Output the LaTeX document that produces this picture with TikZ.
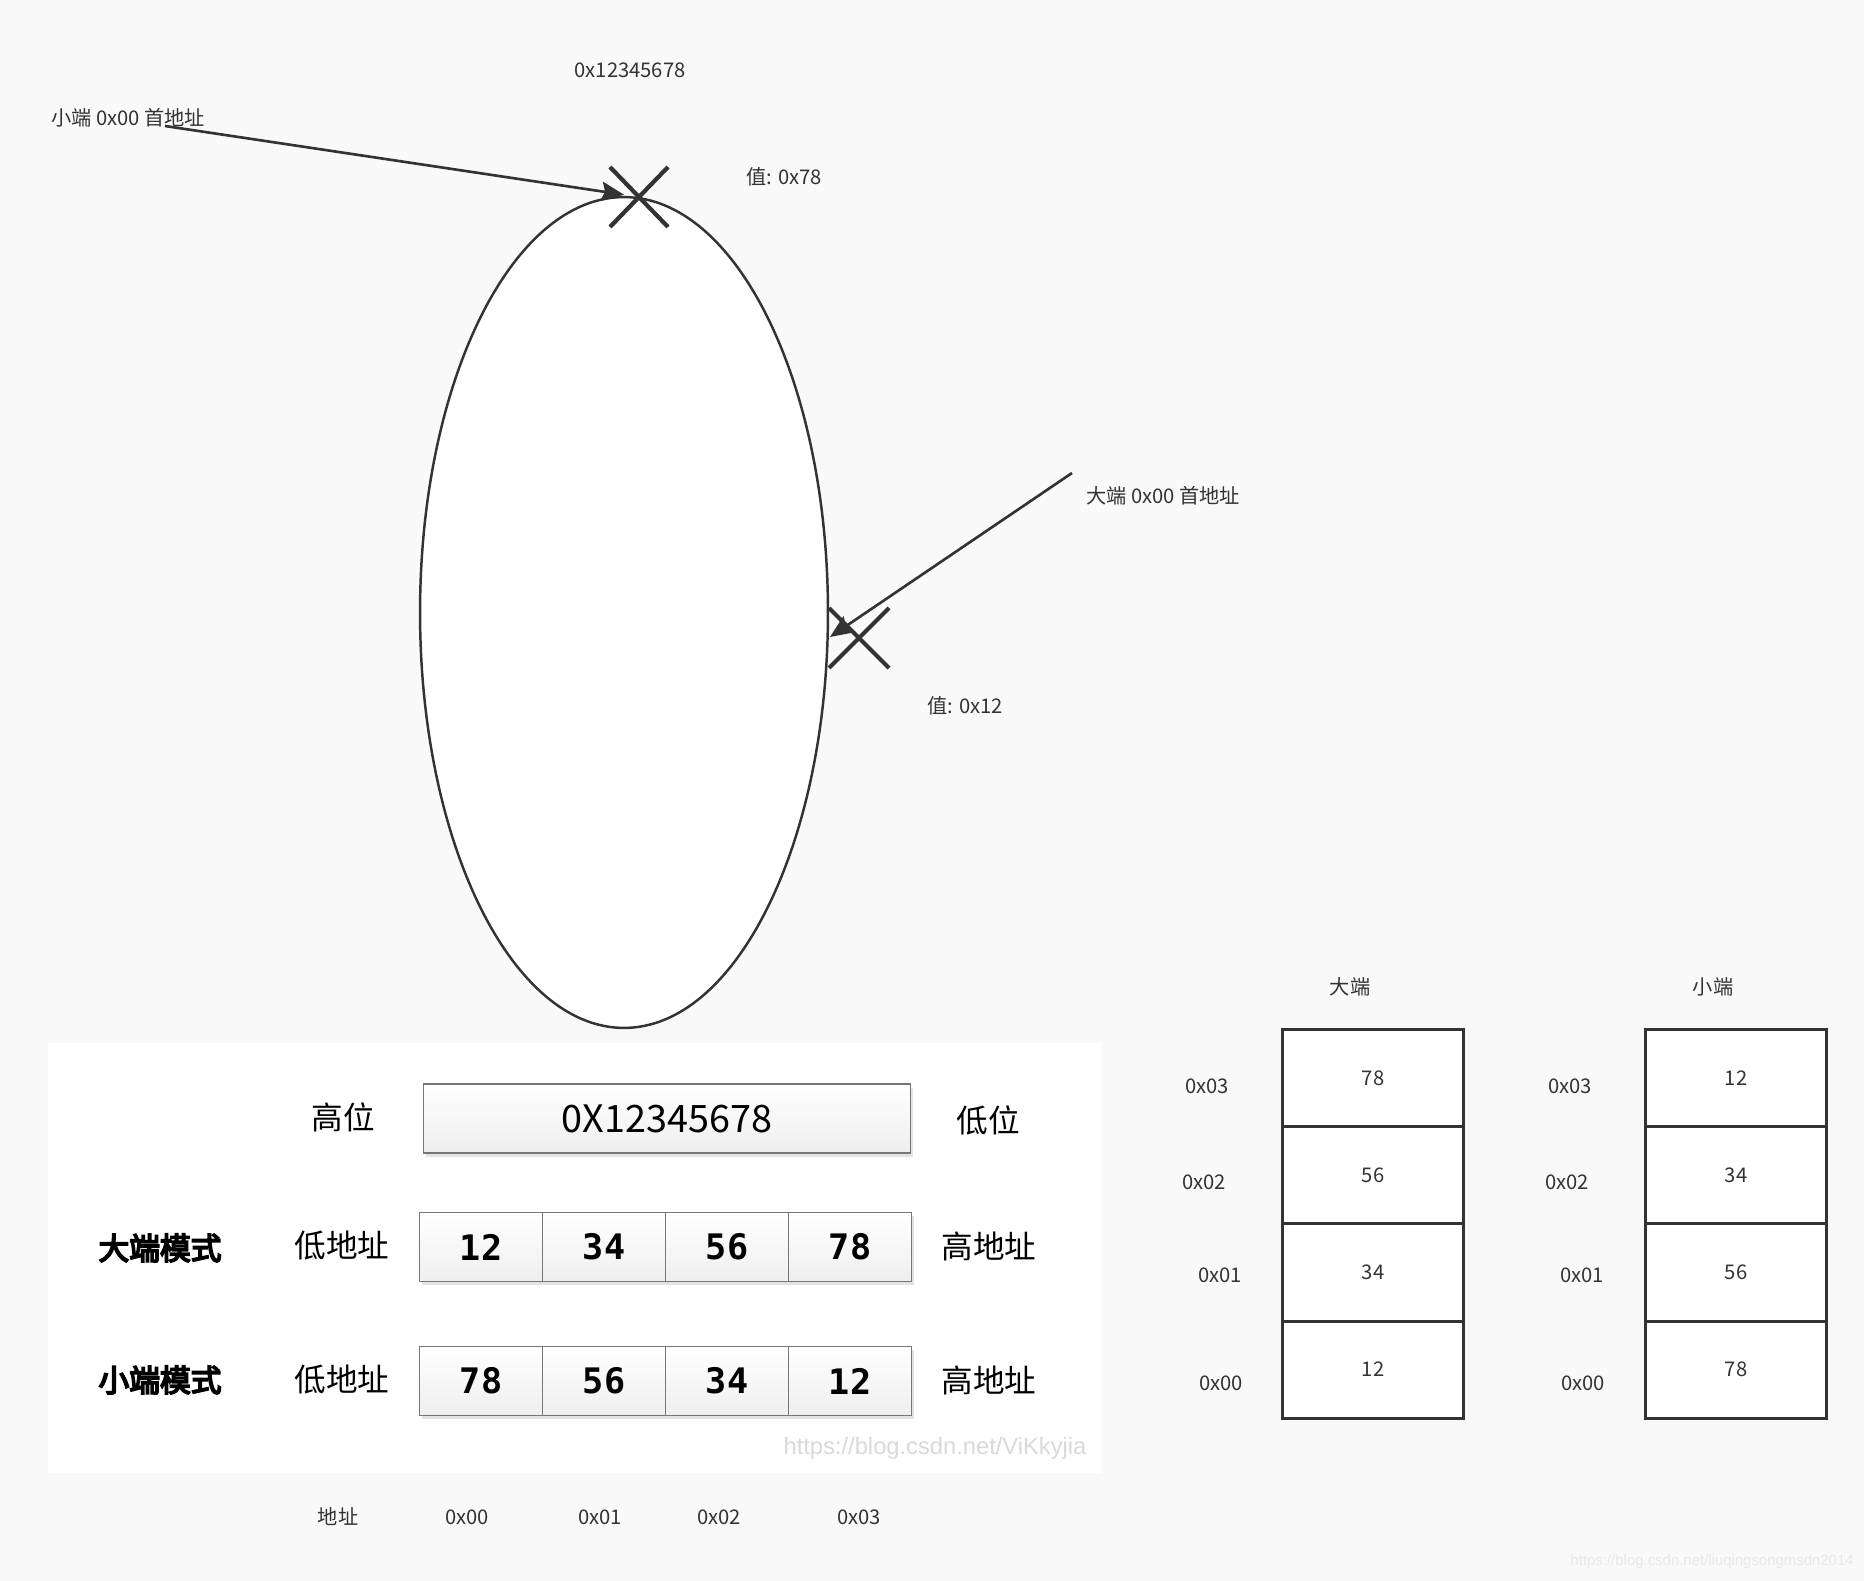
\documentclass[tikz,border=0pt]{standalone}
\usepackage{fontspec}
\usetikzlibrary{arrows.meta, shapes.geometric, shadows, calc}
\newfontfamily\cjk{Noto Sans CJK SC}
\newfontfamily\cjkbold[FakeBold=5.5]{Noto Sans CJK SC}
\newfontfamily\bytefont{DejaVu Sans Mono}
\newfontfamily\wmfont{Liberation Sans}
\definecolor{bg}{HTML}{F9F9F9}
\definecolor{ink}{HTML}{333333}
\definecolor{boxline}{HTML}{767676}

\begin{document}
\begin{tikzpicture}[x=0.02cm, y=-0.02cm, >={Stealth[length=13pt, width=11pt, inset=2pt]},
    lbl/.style={font=\cjk\fontsize{11.5}{13}\selectfont, text=ink, inner sep=0pt},
    biglbl/.style={font=\cjk\fontsize{18}{21}\selectfont, text=black, inner sep=0pt},
    modelbl/.style={font=\cjkbold\fontsize{17.5}{20}\selectfont, text=black, inner sep=0pt},
    bytebox/.style={draw=boxline, line width=0.9pt, top color=white, bottom color=gray!13,
        drop shadow={shadow xshift=1.5pt, shadow yshift=-2pt, fill=gray!22, opacity=1},
        minimum width=2.46cm, minimum height=1.38cm, inner sep=0pt,
        font=\bytefont\bfseries\fontsize{20}{22}\selectfont},
    memcell/.style={draw=ink, line width=1.7pt, fill=white, minimum width=3.62cm,
        minimum height=1.944cm, inner sep=0pt, font=\cjk\fontsize{11.5}{13}\selectfont, text=ink},
    cross/.style={draw=ink, line width=2.4pt},
    wm/.style={font=\wmfont\fontsize{13.5}{15}\selectfont, text=gray!30, inner sep=0pt}]

    % Canvas and white panel
    \fill[bg] (0,0) rectangle (1864,1581);
    \fill[white] (48,1043) rectangle (1101,1473);

    % Memory ellipse
    \node[ellipse, draw=ink, line width=1.4pt, fill=white, minimum width=8.16cm,
        minimum height=16.62cm, inner sep=0pt] (mem) at (624,612.5) {};
    \coordinate (xtop) at (639,197);
    \coordinate (xright) at (859,638);
    \coordinate (btip) at (830,637);
    \coordinate (ltail) at (165,126);
    \coordinate (btail) at (1072,473);

    % Cross marks
    \draw[cross] ($(xtop)+(-29,-30)$) -- ($(xtop)+(29,30)$);
    \draw[cross] ($(xtop)+(29,-30)$) -- ($(xtop)+(-29,30)$);
    \draw[cross] ($(xright)+(-30,-30)$) -- ($(xright)+(30,30)$);
    \draw[cross] ($(xright)+(30,-30)$) -- ($(xright)+(-30,30)$);

    % Labels round the ellipse
    \node[lbl] (word) at (630,70) {0x12345678};
    \node[lbl, anchor=west] (little) at (51,118) {小端 0x00 首地址};
    \node[lbl, anchor=west] (val78) at (746,177) {值: 0x78};
    \node[lbl, anchor=west] (big) at (1086,496) {大端 0x00 首地址};
    \node[lbl, anchor=west] (val12) at (927,706) {值: 0x12};

    % Pointers
    \draw[->, ink, line width=1.5pt, shorten >=0.3cm] (ltail) -- (xtop);
    \draw[->, ink, line width=1.5pt] (btail) -- (btip);

    % Byte order panel
    \node[bytebox, minimum width=9.74cm, font=\cjk\fontsize{21.5}{24}\selectfont] (whole) at (667,1118.5) {0X12345678};
    \node[biglbl] (hi) at (343,1117) {高位};
    \node[biglbl] (lo) at (988,1120) {低位};

    \node[modelbl] (bigmode) at (160,1248) {大端模式};
    \node[biglbl] (bglow) at (342,1246) {低地址};
    \node[biglbl] (bghigh) at (989,1246) {高地址};
    \foreach \v [count=\i from 0] in {12,34,56,78}
        \node[bytebox] (bg\i) at (481+123*\i,1247) {\v};

    \node[modelbl] (litmode) at (160,1380) {小端模式};
    \node[biglbl] (ltlow) at (342,1380) {低地址};
    \node[biglbl] (lthigh) at (989,1380) {高地址};
    \foreach \v [count=\i from 0] in {78,56,34,12}
        \node[bytebox] (lt\i) at (481+123*\i,1381) {\v};

    \node[wm] (mark) at (935,1448) {https://blog.csdn.net/ViKkyjia};

    % Address row
    \node[lbl] (addr) at (338,1517) {地址};
    \node[lbl] (a0) at (467,1517) {0x00};
    \node[lbl] (a1) at (600,1517) {0x01};
    \node[lbl] (a2) at (719,1517) {0x02};
    \node[lbl] (a3) at (859,1517) {0x03};

    % Memory columns
    \node[lbl] (bighead) at (1350,987) {大端};
    \node[lbl] (lithead) at (1713,987) {小端};
    \foreach \v/\a/\ax/\ay [count=\i from 0] in {78/0x03/1207/1086, 56/0x02/1204/1182, 34/0x01/1220/1275, 12/0x00/1221/1383} {
        \node[memcell] (bc\i) at (1373,1078+97.2*\i) {\v};
        \node[lbl] (ba\i) at (\ax,\ay) {\a};
    }
    \foreach \v/\a/\ax/\ay [count=\i from 0] in {12/0x03/1570/1086, 34/0x02/1567/1182, 56/0x01/1582/1275, 78/0x00/1583/1383} {
        \node[memcell] (lc\i) at (1736,1078+97.2*\i) {\v};
        \node[lbl] (la\i) at (\ax,\ay) {\a};
    }

    \node[wm, anchor=east, font=\wmfont\fontsize{8.5}{10}\selectfont, text=gray!18] (mark2) at (1854,1562) {https://blog.csdn.net/liuqingsongmsdn2014};
\end{tikzpicture}
\end{document}
